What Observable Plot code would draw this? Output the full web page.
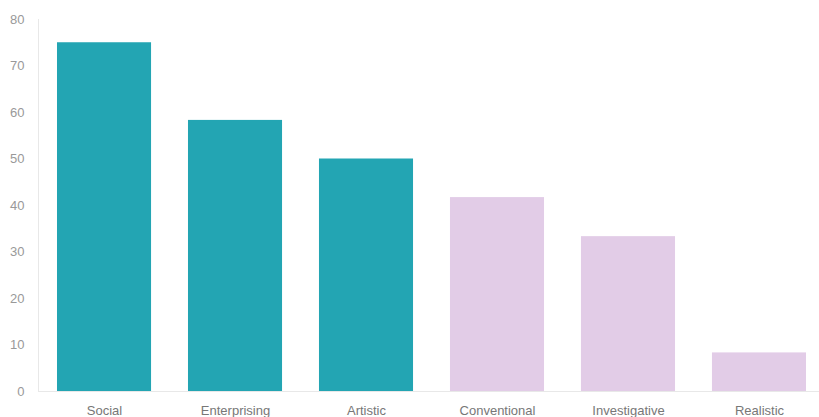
<!DOCTYPE html>
<html><head><meta charset="utf-8">
<script src="https://cdn.jsdelivr.net/npm/d3@7"></script>
<script src="https://cdn.jsdelivr.net/npm/@observablehq/plot@0.6"></script>
<style>body{margin:0;background:#fff;} svg{display:block;}</style>
</head><body><div id="chart"></div>
<script>
const categories = ["Social","Enterprising","Artistic","Conventional","Investigative","Realistic"];
const values = [75, 58.3, 50, 41.7, 33.3, 8.3];
const groups = ["high","high","high","low","low","low"];
const yTicks = [0,10,20,30,40,50,60,70,80];

const data = categories.map((c,i)=>({category:c, value:values[i], group:groups[i]}));

const leftLine = (index, scales, values, dims) => {
  const yMax = d3.max(yTicks);
  return d3.create("svg:line")
    .attr("x1", dims.marginLeft + 0.5).attr("x2", dims.marginLeft + 0.5)
    .attr("y1", scales.y(yMax)).attr("y2", scales.y(0))
    .attr("stroke", "#e8e8e8").node();
};

const chart = Plot.plot({
  width: 819, height: 417,
  marginLeft: 38, marginRight: 0, marginTop: 19, marginBottom: 26,
  style: {fontFamily: "'Liberation Sans', Arial, sans-serif", fontSize: "13px", background: "#fff"},
  x: {domain: categories, range: [38, 825], paddingInner: 0.282, paddingOuter: 0.145, round: false, label: null},
  y: {domain: [0, 80], label: null},
  color: {domain: ["high","low"], range: ["#23a5b3", "#e2cce7"]},
  marks: [
    leftLine,
    Plot.barY(data, {x: "category", y: "value", fill: "group"}),
    Plot.ruleY([0], {stroke: "#e8e8e8"}),
    Plot.axisY({ticks: yTicks, tickSize: 0, tickPadding: 14, color: "#999", fontSize: 13}),
    Plot.axisX({tickSize: 0, tickPadding: 14, color: "#777", fontSize: 13})
  ]
});
document.getElementById("chart").appendChild(chart);
</script></body></html>
